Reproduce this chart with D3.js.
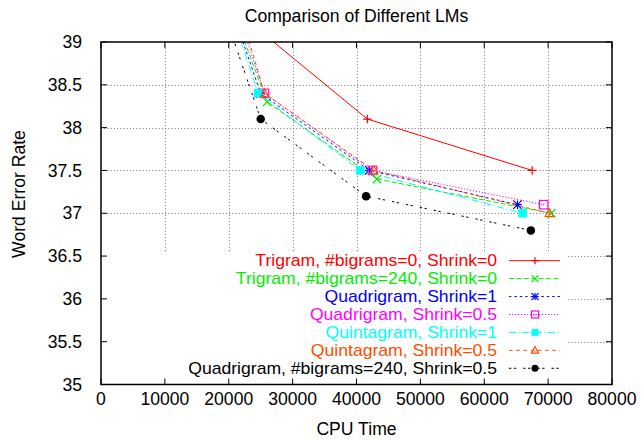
<!DOCTYPE html>
<html>
<head>
<meta charset="utf-8">
<script src="https://cdn.jsdelivr.net/npm/d3@7"></script>
<style>
  body { margin: 0; background: #fff; }
  svg text { font-family: "Liberation Sans", Arial, Helvetica, sans-serif; font-size: 17.6px; }
  svg .key text { font-size: 16px; }
</style>
</head>
<body>
<svg class="d3-svg"></svg>
<script>
// values (first point of each series sits above the plot and gets clipped)
let trigram0Cpu   = [20000, 41700, 67500];
let trigram0Wer   = [39.43, 38.1, 37.5];
let trigram240Cpu = [20000, 26000, 43200, 70500];
let trigram240Wer = [39.5, 38.3, 37.4, 37.0];
let quad1Cpu      = [20000, 25000, 42000, 65200];
let quad1Wer      = [39.48, 38.4, 37.5, 37.1];
let quad05Cpu     = [20000, 25600, 42500, 69300];
let quad05Wer     = [39.65, 38.4, 37.5, 37.1];
let quint1Cpu     = [20000, 24600, 40600, 66000];
let quint1Wer     = [39.45, 38.4, 37.5, 37.0];
let quint05Cpu    = [20000, 25600, 42700, 70200];
let quint05Wer    = [39.82, 38.4, 37.5, 37.0];
let quad240Cpu    = [20000, 25000, 41500, 67300];
let quad240Wer    = [39.19, 38.1, 37.2, 36.8];

let seriesNames = [
  "Trigram, #bigrams=0, Shrink=0",
  "Trigram, #bigrams=240, Shrink=0",
  "Quadrigram, Shrink=1",
  "Quadrigram, Shrink=0.5",
  "Quintagram, Shrink=1",
  "Quintagram, Shrink=0.5",
  "Quadrigram, #bigrams=240, Shrink=0.5"
];
let xTicks = [0, 10000, 20000, 30000, 40000, 50000, 60000, 70000, 80000];
let yTicks = [35, 35.5, 36, 36.5, 37, 37.5, 38, 38.5, 39];

let series = [
  {name: seriesNames[0], cpu: trigram0Cpu,   wer: trigram0Wer,   color: "#ff0000", dash: null,            mark: "plus"},
  {name: seriesNames[1], cpu: trigram240Cpu, wer: trigram240Wer, color: "#00ee00", dash: "5,2.4",         mark: "cross"},
  {name: seriesNames[2], cpu: quad1Cpu,      wer: quad1Wer,      color: "#0000ff", dash: "2.4,3",         mark: "star"},
  {name: seriesNames[3], cpu: quad05Cpu,     wer: quad05Wer,     color: "#ff00ff", dash: "1.2,1.8",       mark: "box"},
  {name: seriesNames[4], cpu: quint1Cpu,     wer: quint1Wer,     color: "#00ffff", dash: "7,2.4,1.2,2.4", mark: "fbox"},
  {name: seriesNames[5], cpu: quint05Cpu,    wer: quint05Wer,    color: "#ff4d00", dash: "3.6,3.6",       mark: "tri"},
  {name: seriesNames[6], cpu: quad240Cpu,    wer: quad240Wer,    color: "#000000", dash: "2.4,2.4,2.4,7", mark: "dot"}
];

let width  = 641;
let height = 440;
let pLeft = 101, pRight = 612, pTop = 42, pBottom = 384.5;

let svg = d3.select(".d3-svg").attr("width", width).attr("height", height);
let x   = d3.scaleLinear().domain([0, 80000]).range([pLeft, pRight]);
let y   = d3.scaleLinear().domain([35, 39]).range([pBottom, pTop]);

svg.append("defs").append("clipPath").attr("id", "plotclip")
  .append("rect")
  .attr("x", pLeft).attr("y", pTop)
  .attr("width", pRight - pLeft).attr("height", pBottom - pTop);

// grid
let grid = svg.append("g").attr("stroke", "#777").attr("stroke-width", 1).attr("stroke-dasharray", "1,2.2");
grid.selectAll(".gx").data(xTicks.slice(1, -1)).enter().append("line")
  .attr("x1", d => Math.round(x(d)) + 0.5).attr("x2", d => Math.round(x(d)) + 0.5)
  .attr("y1", pTop).attr("y2", pBottom);
grid.selectAll(".gy").data(yTicks.slice(1, -1)).enter().append("line")
  .attr("y1", d => Math.round(y(d)) + 0.5).attr("y2", d => Math.round(y(d)) + 0.5)
  .attr("x1", pLeft).attr("x2", pRight);

// opaque key box
svg.append("rect")
  .attr("x", pLeft).attr("y", 251)
  .attr("width", 566 - pLeft).attr("height", pBottom - 251)
  .attr("fill", "#fff");

function marker(g, type, cx, cy, s, color) {
  let h = s / 2;
  if (type === "plus" || type === "star") {
    g.append("path").attr("d", `M${cx - h},${cy}H${cx + h}M${cx},${cy - h}V${cy + h}`)
      .attr("stroke", color).attr("stroke-width", 1.2).attr("fill", "none");
  }
  if (type === "cross" || type === "star") {
    g.append("path").attr("d", `M${cx - h},${cy - h}L${cx + h},${cy + h}M${cx - h},${cy + h}L${cx + h},${cy - h}`)
      .attr("stroke", color).attr("stroke-width", 1.2).attr("fill", "none");
  }
  if (type === "box") {
    g.append("rect").attr("x", cx - h).attr("y", cy - h).attr("width", s).attr("height", s)
      .attr("stroke", color).attr("stroke-width", 1.2).attr("fill", "none");
    g.append("circle").attr("cx", cx).attr("cy", cy).attr("r", 0.7).attr("fill", color);
  }
  if (type === "fbox") {
    g.append("rect").attr("x", cx - h).attr("y", cy - h).attr("width", s).attr("height", s)
      .attr("fill", color);
  }
  if (type === "tri") {
    g.append("path").attr("d", `M${cx},${cy - h * 1.1}L${cx + h},${cy + h * 0.8}L${cx - h},${cy + h * 0.8}Z`)
      .attr("stroke", color).attr("stroke-width", 1.2).attr("fill", "none");
    g.append("circle").attr("cx", cx).attr("cy", cy + 1).attr("r", 0.7).attr("fill", color);
  }
  if (type === "dot") {
    g.append("circle").attr("cx", cx).attr("cy", cy).attr("r", h).attr("fill", color);
  }
}

let line = d3.line()
  .x(function(d) { return x(d[0]); })
  .y(function(d) { return y(d[1]); });

let plot = svg.append("g").attr("clip-path", "url(#plotclip)");
series.forEach(function(s) {
  let pts = s.cpu.map((c, i) => [c, s.wer[i]]);
  plot.append("path")
    .attr("fill", "none")
    .attr("stroke", s.color)
    .attr("stroke-width", 1)
    .attr("stroke-dasharray", s.dash)
    .attr("d", line(pts));
  pts.forEach(function(p) {
    marker(plot, s.mark, x(p[0]), y(p[1]), 8.5, s.color);
  });
});

// key (text slightly widened so it matches the reference width without the rows colliding)
let key = svg.append("g").attr("class", "key");
series.forEach(function(s, i) {
  let ky = 260.7 + i * 17.93;
  key.append("text")
    .attr("transform", "translate(497," + ky + ") scale(1.1,1)")
    .attr("dy", "0.35em")
    .attr("text-anchor", "end")
    .attr("fill", s.color)
    .text(s.name);
  key.append("line")
    .attr("x1", 509).attr("x2", 560).attr("y1", ky).attr("y2", ky)
    .attr("stroke", s.color).attr("stroke-width", 1)
    .attr("stroke-dasharray", s.dash);
  marker(key, s.mark, 535, ky, 7, s.color);
});

// border and inward ticks on all sides
svg.append("rect")
  .attr("x", pLeft).attr("y", pTop)
  .attr("width", pRight - pLeft).attr("height", pBottom - pTop)
  .attr("fill", "none").attr("stroke", "#000").attr("stroke-width", 1.5);

let ticks = svg.append("g").attr("stroke", "#000").attr("stroke-width", 1);
xTicks.forEach(function(t) {
  ticks.append("line").attr("x1", x(t)).attr("x2", x(t)).attr("y1", pBottom).attr("y2", pBottom - 6);
  ticks.append("line").attr("x1", x(t)).attr("x2", x(t)).attr("y1", pTop).attr("y2", pTop + 6);
});
yTicks.forEach(function(t) {
  ticks.append("line").attr("y1", y(t)).attr("y2", y(t)).attr("x1", pLeft).attr("x2", pLeft + 6);
  ticks.append("line").attr("y1", y(t)).attr("y2", y(t)).attr("x1", pRight).attr("x2", pRight - 6);
});

// tick labels
svg.append("g").selectAll("text").data(xTicks).enter().append("text")
  .attr("x", d => x(d)).attr("y", 405)
  .attr("text-anchor", "middle")
  .attr("fill", "#000")
  .text(d => d);
svg.append("g").selectAll("text").data(yTicks).enter().append("text")
  .attr("x", 82).attr("y", d => y(d)).attr("dy", "0.35em")
  .attr("text-anchor", "end")
  .attr("fill", "#000")
  .text(d => d);

// titles
svg.append("text")
  .attr("x", (pLeft + pRight) / 2).attr("y", 22.3)
  .attr("text-anchor", "middle")
  .text("Comparison of Different LMs");
svg.append("text")
  .attr("x", (pLeft + pRight) / 2).attr("y", 435)
  .attr("text-anchor", "middle")
  .text("CPU Time");
svg.append("text")
  .attr("transform", "translate(25,194) rotate(-90)")
  .attr("text-anchor", "middle")
  .text("Word Error Rate");
</script>
</body>
</html>
